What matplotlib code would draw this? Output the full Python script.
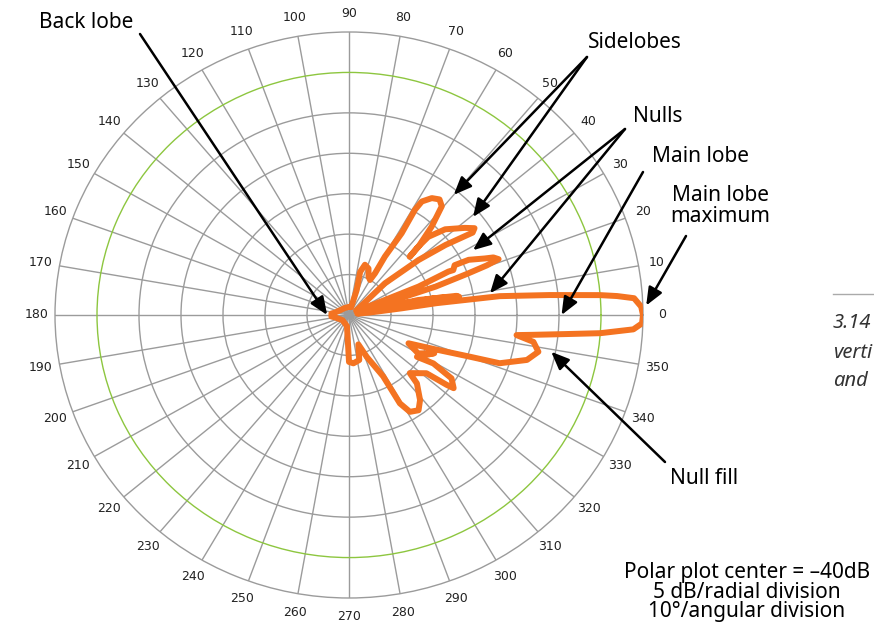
import numpy as np
import matplotlib
matplotlib.use("Agg")
import matplotlib.pyplot as plt

# Antenna pattern, angle in degrees, level in dB
angles = [0, 1.7, 3.5, 4.2, 4.7, 5.9, 7.4, 8, 7.5, 7, 10, 12.7, 10.5, 9.8, 11.5, 14, 17,
          18.7, 18.8, 19.9, 20.5, 21.2, 22.5, 23.4, 25.6, 26.1, 24.1, 24.4, 23, 23.5, 26, 32,
          42.5, 39.4, 37, 34.7, 35.7, 38, 42.8, 45.7, 45.7, 44.9, 45.6, 48, 50.6, 53, 55.7,
          58.3, 58.9, 58.2, 59.4, 59, 60, 64, 68, 73, 76, 73.5, 75, 90, 120, 150, 170, 175,
          185, 190, 220, 260, 268, 270, 275, 282.4, 287, 292.2, 298.2, 299, 301.2, 305.1,
          308.8, 313.7, 315.2, 322, 323.4, 324, 327.3, 329.2, 327.4, 335, 330, 333.7, 337.5,
          340, 341.6, 345.3, 348.6, 351.4, 352.9, 353.6, 354.8, 355.7, 357, 358.3, 360]
levels = [0, -0.2, -1.0, -3.0, -5.0, -11.0, -16.9, -24.5, -28.7, -32.5, -34.0, -26.6, -22.0,
          -21.7, -24.5, -30.8, -33.2, -30.4, -24.1, -20.0, -17.5, -15.9, -16.4, -17.4, -19.2,
          -21.0, -21.4, -22.0, -26.0, -30.3, -33.6, -34.0, -29.2, -24.3, -20.6, -17.1, -16.6,
          -17.5, -19.4, -21.5, -23.4, -24.8, -23.2, -20.3, -17.6, -17.1, -17.5, -18.5, -19.8,
          -23.1, -26.6, -29.0, -30.0, -29.7, -28.8, -28.5, -29.5, -31.8, -34.0, -34.0, -34.0,
          -33.8, -33.3, -32.9, -32.9, -33.3, -34.0, -33.6, -31.5, -29.2, -29.0, -29.3, -31.2,
          -29.4, -26.4, -22.5, -21.0, -20.6, -21.5, -23.3, -24.8, -23.3, -20.5, -19.6, -20.5,
          -23.3, -25.4, -23.8, -25.5, -27.1, -23.9, -20.3, -16.1, -13.1, -12.0, -12.8, -14.9,
          -13.0, -9.0, -5.0, -1.1, -0.1, 0]

ring_levels = [-30, -25, -20, -15, -10, -5]
angle_ticks = list(range(0, 360, 10))

# callouts: label, text position (px, top origin), arrow start (px), arrow targets (deg, dB)
callouts = [
    ("Back lobe", (86, 22), (140, 34), [(180, -32.4)]),
    ("Sidelobes", (635, 42), (587, 57), [(50, -15.6), (39.4, -15.9)]),
    ("Nulls", (658, 116), (625, 129), [(28.5, -18.2), (9.1, -18.0)]),
    ("Main lobe", (700, 156), (643, 172), [(0, -9.7)]),
    ("Main lobe\nmaximum", (720, 206), (686, 236), [(1.9, 0.4)]),
    ("Null fill", (704, 478), (665, 462), [(-10.7, -10.5)]),
]

orange = "#f47321"
grey = "#9b9b9b"
green = "#8dc63f"
W, H = 874, 629

fig = plt.figure(figsize=(8.74, 6.29), dpi=100)
ax = fig.add_axes([55 / W, 31 / H, 588 / W, 566 / H], projection="polar")
ax.set_aspect("auto")

ax.set_rlim(-35, 0)
ax.set_yticks(ring_levels)
ax.set_yticklabels([])
ax.set_thetagrids(angle_ticks, [str(a) for a in angle_ticks], fontsize=9,
                  family="DejaVu Sans", color="#222222")
ax.tick_params(axis="x", pad=3)
ax.grid(True, color=grey, lw=1)
for lvl, gl in zip(ring_levels, ax.yaxis.get_gridlines()):
    if lvl == -5:
        gl.set_color(green)
ax.spines["polar"].set_color(grey)
ax.spines["polar"].set_linewidth(1)

ax.plot(np.radians(angles), levels, color=orange, lw=4.3, solid_joinstyle="round", zorder=3)

arrow_kw = dict(arrowstyle="-|>,head_length=0.6,head_width=0.25", color="black",
                lw=1.8, mutation_scale=18, shrinkA=0, shrinkB=0)
for label, (tx, ty), (sx, sy), targets in callouts:
    fig.text(tx / W, 1 - ty / H, label, ha="center", va="center", fontsize=15,
             family="Noto Sans", linespacing=1.0)
    for th, lv in targets:
        ax.annotate("", xy=(np.radians(th), lv), xycoords="data",
                    xytext=(sx, H - sy), textcoords="figure pixels",
                    arrowprops=arrow_kw, annotation_clip=False)

fig.text(747 / W, 1 - 592 / H,
         "Polar plot center = \u201340dB\n5 dB/radial division\n10\u00b0/angular division",
         ha="center", va="center", fontsize=15, family="Noto Sans", linespacing=0.9)

# caption cut off at the right edge, as in the source page
fig.add_artist(plt.Line2D([833 / W, 1], [1 - 294 / H] * 2, color="#aaaaaa", lw=1))
for txt, y in [("3.14", 323), ("verti", 353), ("and", 381)]:
    fig.text(833 / W, 1 - y / H, txt, ha="left", va="center", fontsize=14.5,
             style="italic", family="Noto Sans", color="#333333")

fig.savefig("out.png", dpi=100)
